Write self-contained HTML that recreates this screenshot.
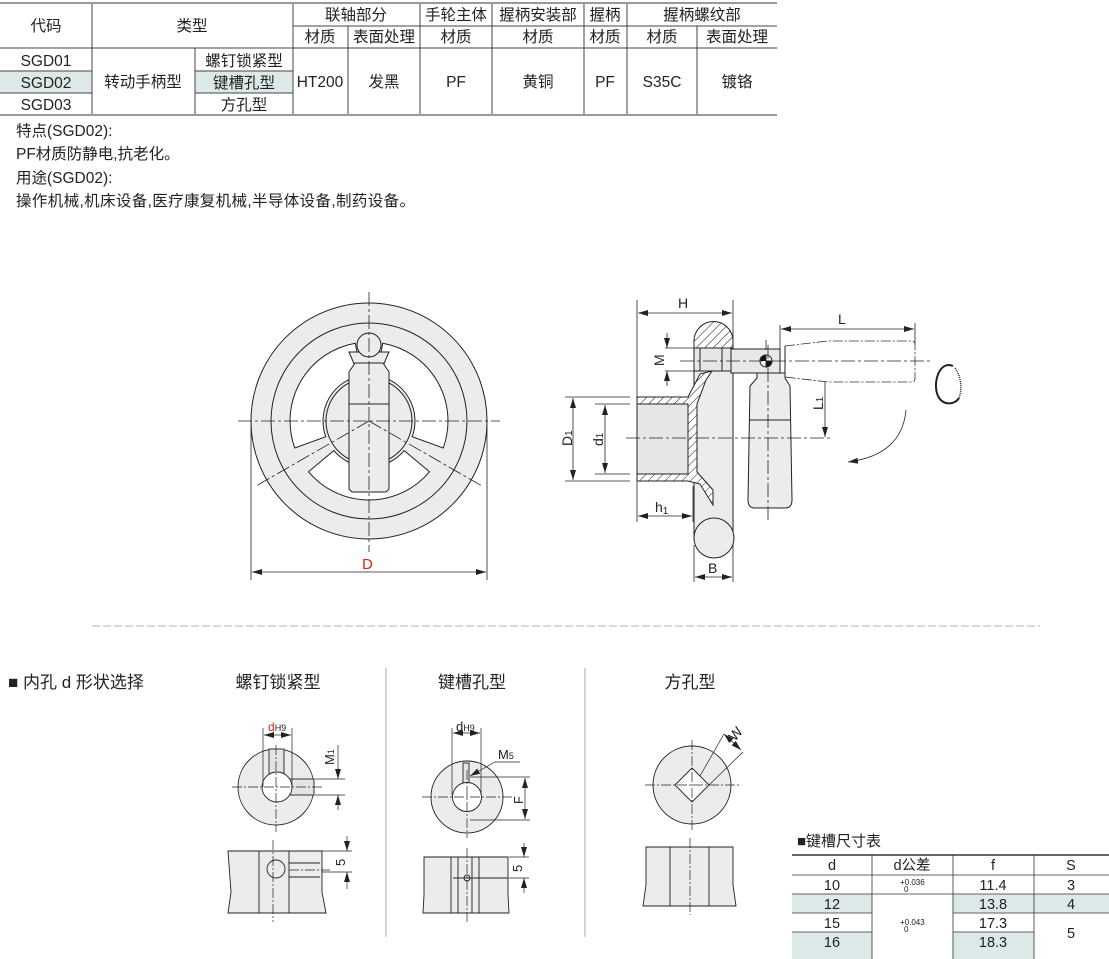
<!DOCTYPE html>
<html><head><meta charset="utf-8"><style>
html,body{margin:0;padding:0;background:#fff;}
svg{display:block;font-family:"Liberation Sans","Noto Sans CJK SC",sans-serif;}
</style></head><body>
<svg width="1109" height="959" viewBox="0 0 1109 959" xmlns="http://www.w3.org/2000/svg">
<defs>
<pattern id="h" patternUnits="userSpaceOnUse" width="6" height="6" patternTransform="rotate(45)">
<rect width="6" height="6" fill="#fff"/><line x1="0" y1="0" x2="0" y2="6" stroke="#222" stroke-width="1"/></pattern>
<marker id="a" viewBox="0 0 10 6" refX="10" refY="3" markerWidth="10" markerHeight="6" orient="auto-start-reverse" markerUnits="userSpaceOnUse"><path d="M0,0L10,3L0,6Z" fill="#222"/></marker>
</defs>

<!-- top table -->
<g font-size="15.5" fill="#222" text-anchor="middle">
<rect x="0" y="71" width="92" height="22" fill="#dde9e9"/>
<rect x="195" y="71" width="98" height="22" fill="#dde9e9"/>
<g stroke="#444" stroke-width="1" fill="none">
<line x1="293" y1="26" x2="777" y2="26"/>
<line x1="0" y1="48" x2="777" y2="48"/>
<line x1="0" y1="71" x2="92" y2="71"/><line x1="195" y1="71" x2="293" y2="71"/>
<line x1="0" y1="93" x2="92" y2="93"/><line x1="195" y1="93" x2="293" y2="93"/>
<line x1="92" y1="3" x2="92" y2="115"/><line x1="195" y1="48" x2="195" y2="115"/>
<line x1="293" y1="3" x2="293" y2="115"/><line x1="348" y1="26" x2="348" y2="115"/>
<line x1="420" y1="3" x2="420" y2="115"/><line x1="492" y1="3" x2="492" y2="115"/>
<line x1="584" y1="3" x2="584" y2="115"/><line x1="627" y1="3" x2="627" y2="115"/>
<line x1="697" y1="26" x2="697" y2="115"/>
</g>
<line x1="0" y1="3" x2="777" y2="3" stroke="#999" stroke-width="2"/>
<line x1="0" y1="115" x2="777" y2="115" stroke="#999" stroke-width="2"/>
<text x="46" y="31">代码</text><text x="192" y="31">类型</text>
<text x="356" y="20">联轴部分</text><text x="456" y="20">手轮主体</text><text x="538" y="20">握柄安装部</text><text x="605" y="20">握柄</text><text x="702" y="20">握柄螺纹部</text>
<text x="320" y="42">材质</text><text x="384" y="42">表面处理</text><text x="456" y="42">材质</text><text x="538" y="42">材质</text><text x="605" y="42">材质</text><text x="662" y="42">材质</text><text x="737" y="42">表面处理</text>
<text x="46" y="66">SGD01</text><text x="46" y="88">SGD02</text><text x="46" y="110">SGD03</text>
<text x="143" y="87">转动手柄型</text>
<text x="244" y="66">螺钉锁紧型</text><text x="244" y="88">键槽孔型</text><text x="244" y="110">方孔型</text>
<text x="320" y="87">HT200</text><text x="384" y="87">发黑</text><text x="456" y="87">PF</text><text x="538" y="87">黄铜</text><text x="605" y="87">PF</text><text x="662" y="87">S35C</text><text x="737" y="87">镀铬</text>
</g>
<g font-size="15.5" fill="#222">
<text x="16" y="136">特点(SGD02):</text>
<text x="16" y="159">PF材质防静电,抗老化。</text>
<text x="16" y="183">用途(SGD02):</text>
<text x="16" y="206" textLength="399">操作机械,机床设备,医疗康复机械,半导体设备,制药设备。</text>
</g>

<!-- handwheel front -->
<g stroke="#222" stroke-width="1">
<circle cx="369" cy="421" r="118" fill="#ececec"/>
<circle cx="369" cy="421" r="98" fill="none"/>
<path d="M382.7,343.2 A79,79 0 0 1 443.2,448 L412.2,436.7 A46,46 0 0 0 377,375.7 Z" fill="#fff"/>
<path d="M429.5,471.8 A79,79 0 0 1 308.5,471.8 L333.8,450.6 A46,46 0 0 0 404.2,450.6 Z" fill="#fff"/>
<path d="M294.8,448 A79,79 0 0 1 355.3,343.2 L361,375.7 A46,46 0 0 0 325.8,436.7 Z" fill="#fff"/>
<circle cx="369" cy="421" r="43" fill="#ececec"/>
<path d="M349,352 L389,352 L383,366 L383,369 L355,369 L355,366 Z" fill="#ececec"/>
<circle cx="369" cy="345" r="12" fill="#ececec"/>
<path d="M355,363 L383,363 L389,372 L389,489 L386,492 L352,492 L349,489 L349,372 Z" fill="#ececec"/>
<line x1="349" y1="404" x2="389" y2="404"/>
</g>
<g stroke="#222" stroke-width="0.8" stroke-dasharray="14,3,3,3" fill="none">
<line x1="238" y1="421" x2="500" y2="421"/>
<line x1="369" y1="292" x2="369" y2="552"/>
<line x1="369" y1="421" x2="256" y2="486"/>
<line x1="369" y1="421" x2="482" y2="486"/>
</g>
<g stroke="#222" stroke-width="0.8">
<line x1="251" y1="425" x2="251" y2="580"/><line x1="487" y1="425" x2="487" y2="580"/>
<line x1="252" y1="572" x2="486" y2="572" marker-start="url(#a)" marker-end="url(#a)"/>
</g>
<text x="362" y="569" font-size="15" fill="#d4241c">D</text>

<!-- side view -->
<g stroke="#222" stroke-width="0.8" fill="none">
<line x1="637" y1="300" x2="637" y2="522"/><line x1="733" y1="300" x2="733" y2="582"/>
<line x1="638" y1="313" x2="732" y2="313" marker-start="url(#a)" marker-end="url(#a)"/>
<line x1="665" y1="348" x2="694" y2="348"/><line x1="665" y1="371" x2="694" y2="371"/>
<line x1="667" y1="333" x2="667" y2="348" marker-end="url(#a)"/><line x1="667" y1="386" x2="667" y2="371" marker-end="url(#a)"/>
<line x1="565" y1="397" x2="630" y2="397"/><line x1="565" y1="481" x2="630" y2="481"/>
<line x1="573" y1="398" x2="573" y2="480" marker-start="url(#a)" marker-end="url(#a)"/>
<line x1="595" y1="404" x2="630" y2="404"/><line x1="595" y1="474" x2="630" y2="474"/>
<line x1="605" y1="405" x2="605" y2="473" marker-start="url(#a)" marker-end="url(#a)"/>
<line x1="693" y1="486" x2="693" y2="522"/>
<line x1="638" y1="516" x2="692" y2="516" marker-start="url(#a)" marker-end="url(#a)"/>
<line x1="694" y1="545" x2="694" y2="582"/>
<line x1="695" y1="577" x2="732" y2="577" marker-start="url(#a)" marker-end="url(#a)"/>
<line x1="780" y1="325" x2="780" y2="350"/><line x1="915" y1="323" x2="915" y2="345"/>
<line x1="781" y1="329" x2="914" y2="329" marker-start="url(#a)" marker-end="url(#a)"/>
<line x1="825" y1="362" x2="825" y2="437" marker-start="url(#a)" marker-end="url(#a)"/>
<path d="M906,410 Q902,455 848,462" marker-end="url(#a)"/>
<path d="M953,366 C940,360 932,382 938,396 C943,406 955,405 959,398" stroke-width="2"/>
<path d="M955,368 C962,378 962,390 959,398" stroke-width="1.5" stroke-dasharray="1,1"/>
</g>
<g stroke="#222" stroke-width="1">
<rect x="694" y="340" width="39" height="200" fill="#ececec"/>
<circle cx="714" cy="538" r="20" fill="#ececec"/>
<path d="M694,348 L694,341 A19.5,19.5 0 0 1 733,341 L733,348 Z" fill="url(#h)"/>
<rect x="694" y="348" width="37" height="23" fill="#e6e6e6"/>
<line x1="700" y1="348" x2="700" y2="371"/><line x1="722" y1="348" x2="722" y2="371"/>
<rect x="637" y="404" width="51" height="70" fill="#e6e6e6"/>
<path d="M637,397 L688,397 L700,374 L712,371 L706,380 L697,404 L697,472 L713,490 L713,505 L700,484 L688,481 L637,481 L637,474 L688,474 L688,404 L637,404 Z" fill="url(#h)"/>
<rect x="731" y="349" width="49" height="24" fill="#e8e8e8"/>
<path d="M757,373 L785,373 L785,378 L790,386 L792,500 Q792,508 785,508 L755,508 Q748,508 748,500 L750,386 L757,378 Z" fill="#ececec"/>
<line x1="749" y1="420" x2="791" y2="420"/>
<circle cx="766" cy="361" r="6" fill="#fff"/>
<path d="M760,361 A6,6 0 0 1 766,355 L766,367 A6,6 0 0 0 772,361 L766,361" fill="#111"/>
</g>
<path d="M785,346 L828,341 L912,341 Q915,341 915,345 L915,378 Q915,382 912,382 L828,382 L785,377 Z" fill="#fff" stroke="#333" stroke-width="0.8" stroke-dasharray="10,2,2,2"/>
<line x1="785" y1="346" x2="785" y2="377" stroke="#222"/>
<g stroke="#222" stroke-width="0.8" stroke-dasharray="14,3,3,3" fill="none">
<line x1="680" y1="361" x2="930" y2="361"/>
<line x1="626" y1="438" x2="830" y2="438"/>
<line x1="768" y1="345" x2="768" y2="520"/>
<line x1="766" y1="340" x2="766" y2="350"/>
</g>
<g font-size="14" fill="#222">
<text x="678" y="308">H</text>
<text x="838" y="324">L</text>
<text x="708" y="573">B</text>
<text x="655" y="512">h<tspan font-size="10" dy="2">1</tspan></text>
<text transform="translate(664,366) rotate(-90)">M</text>
<text transform="translate(572,446) rotate(-90)">D<tspan font-size="10">1</tspan></text>
<text transform="translate(603,446) rotate(-90)">d<tspan font-size="10">1</tspan></text>
<text transform="translate(823,410) rotate(-90)">L<tspan font-size="10">1</tspan></text>
</g>

<line x1="92" y1="626" x2="1040" y2="626" stroke="#999" stroke-width="0.8" stroke-dasharray="8,3"/>

<!-- bottom sections -->
<g font-size="17" fill="#222">
<text x="8" y="688">■ 内孔 d 形状选择</text>
<text x="278" y="688" text-anchor="middle">螺钉锁紧型</text>
<text x="472" y="688" text-anchor="middle">键槽孔型</text>
<text x="690" y="688" text-anchor="middle">方孔型</text>
</g>
<line x1="386" y1="668" x2="386" y2="937" stroke="#aaa"/>
<line x1="585" y1="668" x2="585" y2="937" stroke="#aaa"/>

<!-- set screw -->
<g stroke="#222" stroke-width="0.9">
<circle cx="276" cy="787" r="38" fill="#ececec"/>
<rect x="269" y="749" width="15" height="28" fill="#e4e4e4"/>
<rect x="286" y="779" width="28" height="16" fill="#e4e4e4"/>
<circle cx="277" cy="787" r="15" fill="#fff"/>
<path d="M228,851 L322,851 L322,892 L326,913 L228,913 L231,892 Z" fill="#ececec"/>
<line x1="259" y1="851" x2="259" y2="913"/><line x1="289" y1="851" x2="289" y2="913"/>
<line x1="289" y1="863" x2="320" y2="863"/><line x1="289" y1="877" x2="320" y2="877"/>
<circle cx="276" cy="869" r="9" fill="none"/>
</g>
<g stroke="#222" stroke-width="0.7" fill="none">
<line x1="263" y1="728" x2="263" y2="787"/><line x1="292" y1="728" x2="292" y2="787"/>
<line x1="264" y1="735" x2="291" y2="735" marker-start="url(#a)" marker-end="url(#a)"/>
<line x1="315" y1="779" x2="345" y2="779"/><line x1="315" y1="795" x2="345" y2="795"/>
<line x1="338" y1="745" x2="338" y2="779" marker-end="url(#a)"/><line x1="338" y1="810" x2="338" y2="795" marker-end="url(#a)"/>
<line x1="322" y1="851" x2="352" y2="851"/><line x1="322" y1="872" x2="352" y2="872"/>
<line x1="347" y1="836" x2="347" y2="851" marker-end="url(#a)"/><line x1="347" y1="889" x2="347" y2="872" marker-end="url(#a)"/>
</g>
<g stroke="#222" stroke-width="0.7" stroke-dasharray="10,2,2,2">
<line x1="232" y1="787" x2="323" y2="787"/><line x1="276" y1="745" x2="276" y2="832"/>
<line x1="273" y1="840" x2="273" y2="922"/><line x1="289" y1="870" x2="330" y2="870"/>
</g>
<text x="268" y="731" font-size="12" fill="#d4241c">d<tspan font-size="9" fill="#222">H9</tspan></text>
<text transform="translate(334,765) rotate(-90)" font-size="13" fill="#222">M<tspan font-size="9">1</tspan></text>
<text transform="translate(345,866) rotate(-90)" font-size="13" fill="#222">5</text>

<!-- keyway -->
<g stroke="#222" stroke-width="0.9">
<circle cx="467" cy="797" r="36" fill="#ececec"/>
<rect x="463" y="763" width="6" height="22" fill="#e4e4e4"/>
<circle cx="467" cy="797" r="14.5" fill="#fff"/>
<path d="M424,857 L508,857 L508,895 L509,913 L423,913 L424,895 Z" fill="#ececec"/>
<line x1="451" y1="857" x2="451" y2="913"/><line x1="458" y1="857" x2="458" y2="913"/>
<line x1="472" y1="857" x2="472" y2="913"/><line x1="479" y1="857" x2="479" y2="913"/>
<line x1="453" y1="878" x2="508" y2="878"/>
<circle cx="467" cy="878" r="3" fill="none"/>
</g>
<g stroke="#222" stroke-width="0.7" fill="none">
<line x1="452" y1="728" x2="452" y2="795"/><line x1="481" y1="728" x2="481" y2="795"/>
<line x1="453" y1="733" x2="480" y2="733" marker-start="url(#a)" marker-end="url(#a)"/>
<line x1="520" y1="762" x2="495" y2="762"/><line x1="495" y1="762" x2="470" y2="776" marker-end="url(#a)"/>
<line x1="470" y1="777" x2="530" y2="777"/><line x1="470" y1="820" x2="530" y2="820"/>
<line x1="525" y1="778" x2="525" y2="819" marker-start="url(#a)" marker-end="url(#a)"/>
<line x1="509" y1="857" x2="529" y2="857"/><line x1="509" y1="878" x2="529" y2="878"/>
<line x1="524" y1="843" x2="524" y2="857" marker-end="url(#a)"/><line x1="524" y1="893" x2="524" y2="878" marker-end="url(#a)"/>
</g>
<g stroke="#222" stroke-width="0.7" stroke-dasharray="10,2,2,2">
<line x1="422" y1="797" x2="512" y2="797"/><line x1="467" y1="770" x2="467" y2="838"/>
<line x1="467" y1="848" x2="467" y2="922"/>
</g>
<text x="456" y="731" font-size="13" fill="#222">d<tspan font-size="9">H9</tspan></text>
<text x="498" y="759" font-size="13" fill="#222">M<tspan font-size="9">5</tspan></text>
<text transform="translate(523,804) rotate(-90)" font-size="13" fill="#222">F</text>
<text transform="translate(522,872) rotate(-90)" font-size="13" fill="#222">5</text>

<!-- square -->
<g stroke="#222" stroke-width="0.9">
<circle cx="692" cy="785" r="39" fill="#ececec"/>
<path d="M692,768 L709,785 L692,802 L675,785 Z" fill="#fff"/>
<path d="M646,847 L733,847 L733,885 L736,906 L643,906 L646,885 Z" fill="#ececec"/>
<line x1="670" y1="847" x2="670" y2="906"/><line x1="709" y1="847" x2="709" y2="906"/>
</g>
<g stroke="#222" stroke-width="0.7" fill="none">
<line x1="700" y1="776" x2="724" y2="734"/><line x1="709" y1="785" x2="743" y2="752"/>
<line x1="724" y1="734" x2="741" y2="750" marker-start="url(#a)" marker-end="url(#a)"/>
</g>
<g stroke="#222" stroke-width="0.7" stroke-dasharray="10,2,2,2">
<line x1="645" y1="785" x2="740" y2="785"/><line x1="692" y1="740" x2="692" y2="830"/>
<line x1="690" y1="838" x2="690" y2="915"/>
</g>
<text transform="translate(735,742) rotate(-50)" font-size="14" fill="#222">W</text>

<!-- keyway table -->
<text x="797" y="846" font-size="15" fill="#222">■键槽尺寸表</text>
<rect x="792" y="894" width="80" height="19" fill="#dde9e9"/>
<rect x="953" y="894" width="156" height="19" fill="#dde9e9"/>
<rect x="792" y="932" width="80" height="27" fill="#dde9e9"/>
<rect x="953" y="932" width="81" height="27" fill="#dde9e9"/>
<g stroke="#333" stroke-width="0.8">
<line x1="792" y1="855" x2="1109" y2="855" stroke-width="1.5"/>
<line x1="792" y1="875" x2="1109" y2="875"/>
<line x1="792" y1="894" x2="1109" y2="894"/>
<line x1="792" y1="913" x2="872" y2="913"/><line x1="953" y1="913" x2="1109" y2="913"/>
<line x1="792" y1="932" x2="872" y2="932"/><line x1="953" y1="932" x2="1034" y2="932"/>
<line x1="872" y1="855" x2="872" y2="959"/><line x1="953" y1="855" x2="953" y2="959"/><line x1="1034" y1="855" x2="1034" y2="959"/>
</g>
<g font-size="14.5" fill="#222" text-anchor="middle">
<text x="832" y="870">d</text><text x="912" y="870">d公差</text><text x="993" y="870">f</text><text x="1071" y="870">S</text>
<text x="832" y="890">10</text><text x="993" y="890">11.4</text><text x="1071" y="890">3</text>
<text x="832" y="909">12</text><text x="993" y="909">13.8</text><text x="1071" y="909">4</text>
<text x="832" y="928">15</text><text x="993" y="928">17.3</text><text x="1071" y="938">5</text>
<text x="832" y="947">16</text><text x="993" y="947">18.3</text>
</g>
<g font-size="8" fill="#222">
<text x="900" y="885">+0.036</text><text x="904" y="892">0</text>
<text x="900" y="925">+0.043</text><text x="904" y="932">0</text>
</g>
</svg>
</body></html>
